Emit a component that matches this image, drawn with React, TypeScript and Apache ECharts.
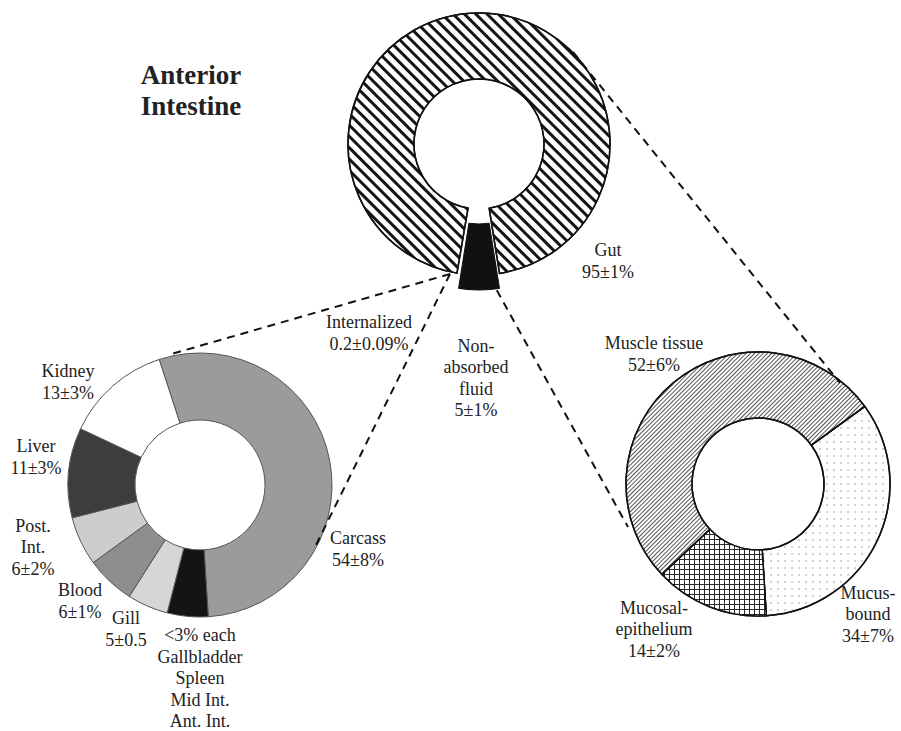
import React, { useEffect, useRef } from "react";
import * as echarts from "echarts";

// ---- data ----
const topNames = ["Non-absorbed fluid", "Internalized", "Gut"];
const topValues = [5, 0.2, 95];
const leftNames = ["Carcass", "<3% each", "Gill", "Blood", "Post. Int.", "Liver", "Kidney"];
const leftValues = [54, 5, 5, 6, 6, 11, 13];
const leftColors = ["#9b9b9b", "#141414", "#d6d6d6", "#8e8e8e", "#cdcdcd", "#3d3d3d", "#ffffff"];
const rightNames = ["Mucus-bound", "Mucosal-epithelium", "Muscle tissue"];
const rightValues = [34, 14, 52];

const labels: { text: string; x: number; y: number }[] = [
  { text: "Gut\n95±1%", x: 608, y: 261 },
  { text: "Internalized\n0.2±0.09%", x: 369, y: 333 },
  { text: "Non-\nabsorbed\nfluid\n5±1%", x: 476, y: 378 },
  { text: "Kidney\n13±3%", x: 68, y: 382 },
  { text: "Liver\n11±3%", x: 36, y: 457 },
  { text: "Post.\nInt.\n6±2%", x: 33, y: 547 },
  { text: "Blood\n6±1%", x: 80, y: 601 },
  { text: "Gill\n5±0.5", x: 126, y: 629 },
  { text: "<3% each\nGallbladder\nSpleen\nMid Int.\nAnt. Int.", x: 200, y: 678 },
  { text: "Carcass\n54±8%", x: 358, y: 549 },
  { text: "Muscle tissue\n52±6%", x: 654, y: 354 },
  { text: "Mucosal-\nepithelium\n14±2%", x: 654, y: 629 },
  { text: "Mucus-\nbound\n34±7%", x: 868, y: 614 },
];

const connectors: [number, number, number, number][] = [
  [450, 274, 168, 355],
  [450, 274, 316, 545],
  [490, 278, 628, 527],
  [573, 52, 840, 383],
];

export default function App() {
  const ref = useRef<HTMLDivElement>(null);
  useEffect(() => {
    document.body.style.margin = "0";
    const chart = echarts.init(ref.current!, undefined, { renderer: "svg" });
    const family = "'Liberation Serif', 'DejaVu Serif', 'Times New Roman', Times, serif";

    const topData = topNames.map((n, i) => {
      if (i === 0)
        return { name: n, value: topValues[i], selected: true, itemStyle: { color: "#111", borderColor: "#111", borderWidth: 1 } };
      if (i === 1)
        return { name: n, value: topValues[i], itemStyle: { color: "rgba(0,0,0,0)", borderWidth: 0 } };
      return {
        name: n,
        value: topValues[i],
        itemStyle: {
          color: "#fff",
          borderColor: "#111",
          borderWidth: 1.5,
          decal: {
            symbol: "rect",
            symbolSize: 1,
            dashArrayX: [1, 0],
            dashArrayY: [2.1, 4.4],
            rotation: Math.PI / 4,
            color: "#151515",
          },
        },
      };
    });

    const leftData = leftNames.map((n, i) => ({
      name: n,
      value: leftValues[i],
      itemStyle: { color: leftColors[i], borderColor: "#555", borderWidth: 1 },
    }));

    const rightColors = ["#fff", "#2a2a2a", "#fff"];
    const rightDecals = [
      { symbol: "circle", symbolSize: 0.6, dashArrayX: [2, 5], dashArrayY: [2, 5], color: "#777" },
      { symbol: "rect", symbolSize: 1, dashArrayX: [3.3, 1], dashArrayY: [3.3, 1], color: "#fff" },
      { symbol: "rect", symbolSize: 1, dashArrayX: [1, 0], dashArrayY: [1, 2], rotation: -Math.PI / 4, color: "#555" },
    ];
    const rightData = rightNames.map((n, i) => ({
      name: n,
      value: rightValues[i],
      itemStyle: { color: rightColors[i], borderColor: "#111", borderWidth: 1.5, decal: rightDecals[i] },
    }));

    const common = {
      type: "pie",
      label: { show: false },
      labelLine: { show: false },
      emphasis: { disabled: true },
      clockwise: true,
      silent: true,
    };

    chart.setOption({
      animation: false,
      backgroundColor: "#fff",
      textStyle: { fontFamily: family },
      series: [
        {
          ...common,
          center: [479, 144],
          radius: [65, 131],
          startAngle: -81,
          selectedMode: "single",
          selectedOffset: 15,
          data: topData,
        },
        { ...common, center: [200, 485], radius: [65, 132], startAngle: 108, data: leftData },
        { ...common, center: [758, 484], radius: [66, 132], startAngle: 36, data: rightData },
      ],
      graphic: [
        ...connectors.map((c) => ({
          type: "line",
          z: 10,
          shape: { x1: c[0], y1: c[1], x2: c[2], y2: c[3] },
          style: { stroke: "#111", lineWidth: 2, lineDash: [8, 6] },
        })),
        {
          type: "text",
          x: 191,
          y: 90,
          style: {
            text: "Anterior\nIntestine",
            font: `bold 27px ${family}`,
            lineHeight: 31,
            fill: "#222",
            align: "center",
            verticalAlign: "middle",
          },
        },
        ...labels.map((l) => ({
          type: "text",
          x: l.x,
          y: l.y,
          z: 20,
          style: {
            text: l.text,
            font: `18px ${family}`,
            lineHeight: 21.5,
            fill: "#222",
            align: "center",
            verticalAlign: "middle",
          },
        })),
      ],
    });
    return () => chart.dispose();
  }, []);
  return <div ref={ref} style={{ width: 901, height: 731 }} />;
}
